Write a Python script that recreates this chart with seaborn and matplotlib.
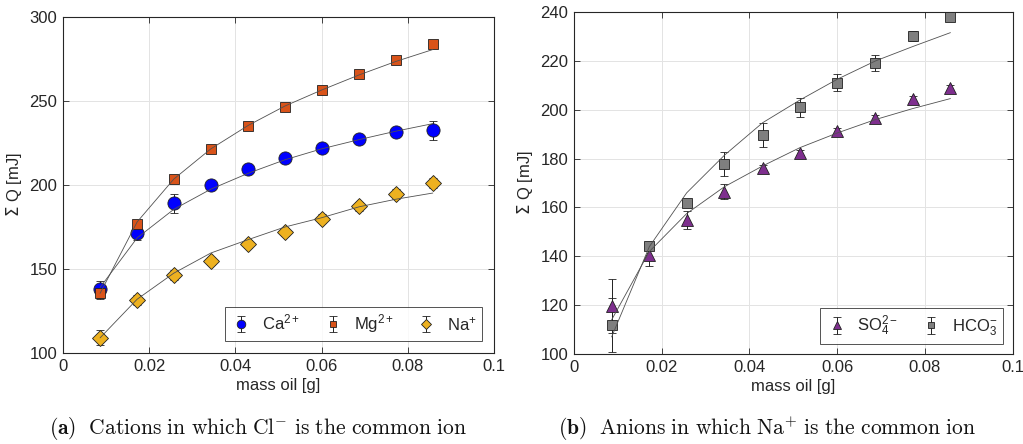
import numpy as np
import matplotlib
matplotlib.use("Agg")
import matplotlib.pyplot as plt
from matplotlib.font_manager import FontProperties
import seaborn as sns
import pandas as pd

# ---- data ----
mass_oil = [0.0086, 0.0172, 0.0257, 0.0343, 0.0430, 0.0515, 0.0600, 0.0687, 0.0772, 0.0858]

ca_q = [137.8, 171.5, 189.0, 199.8, 209.7, 216.3, 222.2, 227.5, 231.3, 232.5]
ca_err = [5.0, 4.0, 5.5, 2.8, 1.5, 1.5, 1.5, 1.5, 1.5, 5.7]
ca_fit = [139.0, 168.5, 185.5, 197.5, 207.0, 215.0, 221.5, 227.0, 232.0, 236.5]

mg_q = [135.5, 176.6, 203.4, 221.4, 235.3, 246.3, 256.3, 266.0, 274.5, 284.0]
mg_err = [3.5, 2.5, 2.0, 1.5, 1.5, 1.5, 1.5, 1.5, 1.5, 1.5]
mg_fit = [135.5, 178.0, 203.5, 221.5, 235.5, 247.0, 256.5, 265.5, 273.5, 280.6]

na_q = [109.1, 131.3, 146.5, 154.8, 164.8, 172.1, 180.0, 187.3, 194.5, 201.4]
na_err = [4.5, 3.0, 3.0, 2.5, 2.5, 2.5, 2.5, 2.5, 3.0, 3.0]
na_fit = [109.0, 132.0, 147.5, 159.5, 167.5, 175.0, 180.5, 187.0, 191.5, 195.2]

so4_q = [119.7, 140.6, 154.9, 166.5, 176.1, 182.5, 191.4, 196.5, 204.3, 209.0]
so4_err = [11.0, 4.5, 3.7, 3.0, 1.2, 1.2, 1.2, 1.2, 1.2, 1.2]
so4_fit = [114.0, 142.0, 157.5, 168.5, 177.0, 184.5, 190.5, 196.0, 200.5, 204.6]

hco3_q = [111.8, 144.4, 162.0, 177.7, 189.7, 201.0, 211.1, 219.2, 230.3, 237.8]
hco3_err = [11.0, 1.5, 1.5, 5.0, 5.0, 4.0, 3.5, 3.3, 2.0, 1.0]
hco3_fit = [107.0, 144.0, 166.0, 181.4, 194.7, 204.0, 212.5, 220.0, 225.9, 231.6]

x_ticks = [0, 0.02, 0.04, 0.06, 0.08, 0.1]
x_tick_labels = ["0", "0.02", "0.04", "0.06", "0.08", "0.1"]

# ---- style ----
sns.set_theme(style="white")
plt.rcParams["font.family"] = ["Liberation Sans", "DejaVu Sans"]
plt.rcParams["axes.unicode_minus"] = False
plt.rcParams["mathtext.rm"] = "Liberation Sans"
plt.rcParams["mathtext.it"] = "Liberation Sans:italic"
plt.rcParams["mathtext.bf"] = "Liberation Sans:bold"

fig = plt.figure(figsize=(10.23, 4.44), dpi=100)
ax1 = fig.add_axes([0.0616, 0.205, 0.4213, 0.7568])
ax2 = fig.add_axes([0.561, 0.2027, 0.429, 0.770])

edge_c = "#262626"
FS = 12
legend_fp = FontProperties(family="Liberation Sans", size=FS, math_fontfamily="custom")


def style_axes(ax, ylim, yticks):
    ax.set_xlim(0, 0.1)
    ax.set_ylim(*ylim)
    ax.set_xticks(x_ticks)
    ax.set_xticklabels(x_tick_labels)
    ax.set_yticks(yticks)
    ax.set_yticklabels([str(t) for t in yticks])
    ax.grid(True, color="#e3e3e3", linewidth=0.7)
    ax.set_axisbelow(True)
    for s in ax.spines.values():
        s.set_visible(True)
        s.set_color(edge_c)
        s.set_linewidth(0.8)
    ax.tick_params(direction="in", length=4, width=0.6, color=edge_c,
                   labelsize=FS, labelcolor="#262626",
                   top=True, right=True, bottom=True, left=True, pad=4)
    ax.set_xlabel("mass oil [g]", fontsize=FS, color="#262626", labelpad=3)
    ax.set_ylabel(r"$\Sigma$ Q [mJ]", fontsize=FS, color="#262626", labelpad=4)


def series(ax, y, err, fit, marker, color, ms, label, ecol="#202020"):
    df = pd.DataFrame({"x": mass_oil, "fit": fit})
    sns.lineplot(data=df, x="x", y="fit", ax=ax, color="#505050",
                 linewidth=0.6, zorder=5, legend=False)
    eb = ax.errorbar(mass_oil, y, yerr=err, fmt=marker, ms=ms, mfc=color,
                     mec="#202020", mew=0.6, ecolor=ecol, elinewidth=0.7,
                     capsize=3, capthick=0.7, zorder=4, label=label)
    return eb


h1 = series(ax1, ca_q, ca_err, ca_fit, "o", "#0000FF", 9.5, r"$\mathrm{Ca}^{2+}$")
h2 = series(ax1, mg_q, mg_err, mg_fit, "s", "#D95319", 6.5, r"$\mathrm{Mg}^{2+}$")
h3 = series(ax1, na_q, na_err, na_fit, "D", "#EDB120", 8.5, r"$\mathrm{Na}^{+}$")
style_axes(ax1, (100, 300), [100, 150, 200, 250, 300])
leg1 = ax1.legend(handles=[h1, h2, h3], loc="lower right", ncol=3, prop=legend_fp,
                  markerscale=0.65, frameon=True, fancybox=False, edgecolor=edge_c,
                  borderaxespad=0.7, columnspacing=1.3, handletextpad=0.6,
                  handlelength=1.3, borderpad=0.35)
leg1.get_frame().set_linewidth(0.7)

h4 = series(ax2, so4_q, so4_err, so4_fit, "^", "#7E2F8E", 9, r"$\mathrm{SO}_4^{2-}$")
h5 = series(ax2, hco3_q, hco3_err, hco3_fit, "s", "#7F7F7F", 7, r"$\mathrm{HCO}_3^{-}$")
style_axes(ax2, (100, 240), [100, 120, 140, 160, 180, 200, 220, 240])
leg2 = ax2.legend(handles=[h4, h5], loc="lower right", ncol=2, prop=legend_fp,
                  markerscale=0.65, frameon=True, fancybox=False, edgecolor=edge_c,
                  borderaxespad=0.6, columnspacing=1.3, handletextpad=0.6,
                  handlelength=1.3, borderpad=0.35)
leg2.get_frame().set_linewidth(0.7)

cap_kw = dict(ha="center", va="center", fontsize=15.5, math_fontfamily="cm", color="#111111")
fig.text(0.252, 0.034,
         r"$\mathbf{(a)}\ \ \mathrm{Cations\ in\ which\ Cl}^{-}\mathrm{\ is\ the\ common\ ion}$",
         **cap_kw)
fig.text(0.750, 0.034,
         r"$\mathbf{(b)}\ \ \mathrm{Anions\ in\ which\ Na}^{+}\mathrm{\ is\ the\ common\ ion}$",
         **cap_kw)

fig.savefig("out.png", dpi=100)
